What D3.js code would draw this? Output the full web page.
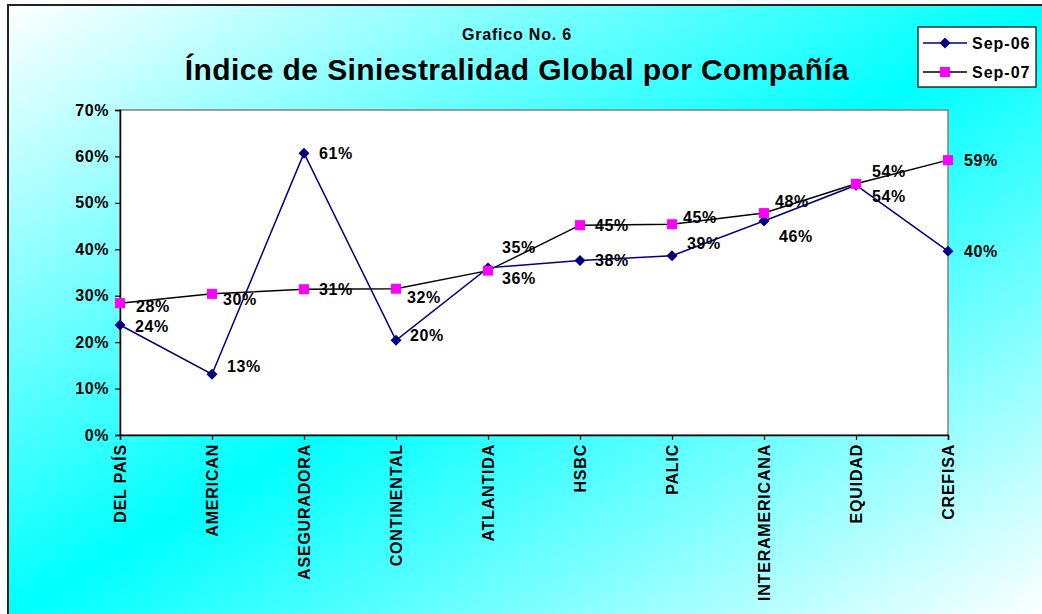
<!DOCTYPE html>
<html>
<head>
<meta charset="utf-8">
<script src="https://cdn.jsdelivr.net/npm/d3@7"></script>
<style>
  body { margin: 0; background: #fff; }
  svg { display: block; font-family: "Liberation Sans", Arial, sans-serif; font-weight: bold; }
</style>
</head>
<body>
<svg id="chart" width="1042" height="614"></svg>
<script>
// Data
const companies = ["DEL PAÍS", "AMERICAN", "ASEGURADORA", "CONTINENTAL", "ATLANTIDA",
  "HSBC", "PALIC", "INTERAMERICANA", "EQUIDAD", "CREFISA"];
const sep06 = [0.237, 0.131, 0.607, 0.204, 0.360, 0.376, 0.386, 0.461, 0.538, 0.396];
const sep07 = [0.284, 0.304, 0.314, 0.315, 0.354, 0.452, 0.454, 0.478, 0.541, 0.592];
const yTicks = [0, 0.1, 0.2, 0.3, 0.4, 0.5, 0.6, 0.7];
const seriesNames = ["Sep-06", "Sep-07"];

const svg = d3.select("#chart");

// background gradient (white -> cyan -> white, diagonal)
const defs = svg.append("defs");
const grad = defs.append("linearGradient")
  .attr("id", "bg")
  .attr("x1", 0).attr("y1", 0).attr("x2", 1).attr("y2", 1);
grad.append("stop").attr("offset", "0%").attr("stop-color", "#ffffff");
grad.append("stop").attr("offset", "50%").attr("stop-color", "#00ffff");
grad.append("stop").attr("offset", "100%").attr("stop-color", "#ffffff");

svg.append("rect")
  .attr("x", 8).attr("y", 5)
  .attr("width", 1040).attr("height", 612)
  .attr("fill", "url(#bg)")
  .attr("stroke", "#222")
  .attr("stroke-width", 2);

// Plot area
const pLeft = 120, pRight = 948, pTop = 110, pBottom = 435;

const x = d3.scalePoint().domain(companies).range([pLeft, pRight]);
const y = d3.scaleLinear().domain([0, 0.7]).range([pBottom, pTop]);

svg.append("rect")
  .attr("x", pLeft).attr("y", pTop)
  .attr("width", pRight - pLeft).attr("height", pBottom - pTop)
  .attr("fill", "#fff")
  .attr("stroke", "#808080")
  .attr("stroke-width", 1.5);

// Titles
svg.append("text")
  .attr("x", 517).attr("y", 40)
  .attr("text-anchor", "middle")
  .attr("font-size", 16)
  .attr("letter-spacing", 0.8)
  .text("Grafico No. 6");

svg.append("text")
  .attr("x", 517).attr("y", 80)
  .attr("text-anchor", "middle")
  .attr("font-size", 30)
  .attr("letter-spacing", 0.4)
  .text("Índice de Siniestralidad Global por Compañía");

// Axes
const yAxis = svg.append("g")
  .attr("transform", `translate(${pLeft},0)`)
  .call(d3.axisLeft(y).tickValues(yTicks).tickFormat(d3.format(".0%")).tickSize(5).tickPadding(6));
yAxis.selectAll("text")
  .attr("font-size", 16).attr("font-family", "Liberation Sans, Arial, sans-serif")
  .attr("font-weight", "bold").attr("letter-spacing", 0.6).attr("fill", "#000");

const xAxis = svg.append("g")
  .attr("transform", `translate(0,${pBottom})`)
  .call(d3.axisBottom(x).tickSize(5).tickPadding(6));
xAxis.selectAll("text")
  .attr("font-size", 16).attr("font-family", "Liberation Sans, Arial, sans-serif")
  .attr("font-weight", "bold").attr("letter-spacing", 0.8).attr("fill", "#000")
  .attr("transform", "rotate(-90)")
  .attr("text-anchor", "end")
  .attr("x", -9).attr("y", 0).attr("dy", "0.36em");

svg.selectAll(".domain").attr("stroke", "#000").attr("stroke-width", 1.5);
svg.selectAll(".tick line").attr("stroke", "#000").attr("stroke-width", 1.2);

// Lines
const line = d3.line()
  .x((d, i) => x(companies[i]))
  .y(d => y(d));

svg.append("path")
  .datum(sep07)
  .attr("d", line)
  .attr("fill", "none")
  .attr("stroke", "#000")
  .attr("stroke-width", 1.5);

svg.append("path")
  .datum(sep06)
  .attr("d", line)
  .attr("fill", "none")
  .attr("stroke", "#000080")
  .attr("stroke-width", 1.5);

const diamond = d3.symbol().type(d3.symbolSquare).size(60);

svg.selectAll(".m06")
  .data(sep06)
  .enter()
  .append("path")
  .attr("class", "m06")
  .attr("d", diamond)
  .attr("transform", (d, i) => `translate(${x(companies[i])},${y(d)}) rotate(45)`)
  .attr("fill", "#000080");

svg.selectAll(".m07")
  .data(sep07)
  .enter()
  .append("rect")
  .attr("class", "m07")
  .attr("x", (d, i) => x(companies[i]) - 5)
  .attr("y", d => y(d) - 5)
  .attr("width", 10).attr("height", 10)
  .attr("fill", "#ff00ff");

// Data labels (manually nudged like the original)
const shift06 = [[15, 1], [15, -8], [15, 0], [14, -5], [14, 10], [15, 0], [15, -13], [15, 15], [16, 11], [16, 0]];
const shift07 = [[16, 3], [11, 5], [15, 0], [11, 8], [14, -23], [15, 0], [11, -7], [11, -12], [16, -13], [16, 0]];

const fmt = d3.format(".0%");
function addLabels(values, shifts) {
  svg.append("g")
    .selectAll("text")
    .data(values)
    .enter()
    .append("text")
    .attr("x", (d, i) => x(companies[i]) + shifts[i][0])
    .attr("y", (d, i) => y(d) + shifts[i][1])
    .attr("dy", "0.36em")
    .attr("font-size", 16)
    .attr("letter-spacing", 0.6)
    .text(d => fmt(d));
}
addLabels(sep06, shift06);
addLabels(sep07, shift07);

// Legend
const legend = svg.append("g");
legend.append("rect")
  .attr("x", 918).attr("y", 27)
  .attr("width", 118).attr("height", 60)
  .attr("fill", "#fff")
  .attr("stroke", "#000")
  .attr("stroke-width", 1.2);

seriesNames.forEach((name, i) => {
  const ly = 43 + i * 29;
  legend.append("line")
    .attr("x1", 923).attr("x2", 967)
    .attr("y1", ly).attr("y2", ly)
    .attr("stroke", i === 0 ? "#000080" : "#000")
    .attr("stroke-width", 1.5);
  if (i === 0) {
    legend.append("path")
      .attr("d", diamond)
      .attr("transform", `translate(945,${ly}) rotate(45)`)
      .attr("fill", "#000080");
  } else {
    legend.append("rect")
      .attr("x", 940).attr("y", ly - 5)
      .attr("width", 10).attr("height", 10)
      .attr("fill", "#ff00ff");
  }
  legend.append("text")
    .attr("x", 972).attr("y", ly)
    .attr("dy", "0.36em")
    .attr("font-size", 16)
    .attr("letter-spacing", 1)
    .text(name);
});
</script>
</body>
</html>
